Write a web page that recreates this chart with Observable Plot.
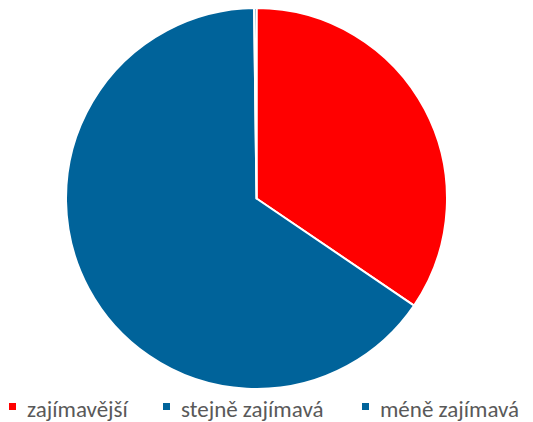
<!DOCTYPE html>
<html><head><meta charset="utf-8">
<script src="https://cdn.jsdelivr.net/npm/d3@7"></script>
<script src="https://cdn.jsdelivr.net/npm/@observablehq/plot@0.6"></script>
<style>
body{margin:0;background:#fff;}
#wrap{position:relative;width:533px;height:422px;overflow:hidden;}
#chart svg, #legend svg{display:block;}
</style></head>
<body><div id="wrap"><div id="chart"></div><div id="legend"></div></div>
<script>
const categories = ["zajímavější", "stejně zajímavá", "méně zajímavá"];
const values = [34.5, 65.3, 0.2];
const colors = ["#ff0000", "#00639a", "#00639a"];
const legendX = [9, 163, 362];

const data = categories.map((c, i) => ({category: c, value: values[i]}));
const pie = d3.pie().sort(null).value(d => d.value);
const arcs = pie(data);

const pieMark = (index, scales, vals, dims) => {
  const w = dims.width - dims.marginLeft - dims.marginRight;
  const h = dims.height - dims.marginTop - dims.marginBottom;
  const cx = dims.marginLeft + w / 2, cy = dims.marginTop + h / 2;
  const r = Math.min(w, h) / 2;
  const arc = d3.arc().innerRadius(0).outerRadius(r);
  const g = d3.create("svg:g").attr("transform", `translate(${cx},${cy})`);
  g.selectAll("path").data(arcs).join("path")
    .attr("d", arc)
    .attr("fill", d => scales.color(d.data.category))
    .attr("stroke", "#fff").attr("stroke-width", 2).attr("stroke-linejoin", "round");
  return g.node();
};

const chart = Plot.plot({
  width: 533, height: 396,
  marginLeft: 66, marginRight: 86, marginTop: 8, marginBottom: 7,
  x: {axis: null, domain: [0, 1]}, y: {axis: null, domain: [0, 1]},
  color: {domain: categories, range: colors},
  marks: [
    Plot.dot(data, {x: () => 0.5, y: () => 0.5, fill: "category", r: 0}),
    pieMark
  ]
});
document.getElementById("chart").appendChild(chart);

// legend below the chart
const lg = d3.create("svg").attr("width", 533).attr("height", 26);
const items = lg.selectAll("g").data(categories).join("g")
  .attr("transform", (d, i) => `translate(${legendX[i]},0)`);
items.append("rect").attr("x", 0).attr("y", 7).attr("width", 7).attr("height", 7)
  .attr("fill", (d, i) => colors[i]);
items.append("text").attr("x", 18).attr("y", 21).text(d => d)
  .attr("fill", "#595959")
  .style("font-family", "Carlito, Calibri, 'Liberation Sans', sans-serif")
  .style("font-size", "23px");
document.getElementById("legend").appendChild(lg.node());
</script></body></html>
